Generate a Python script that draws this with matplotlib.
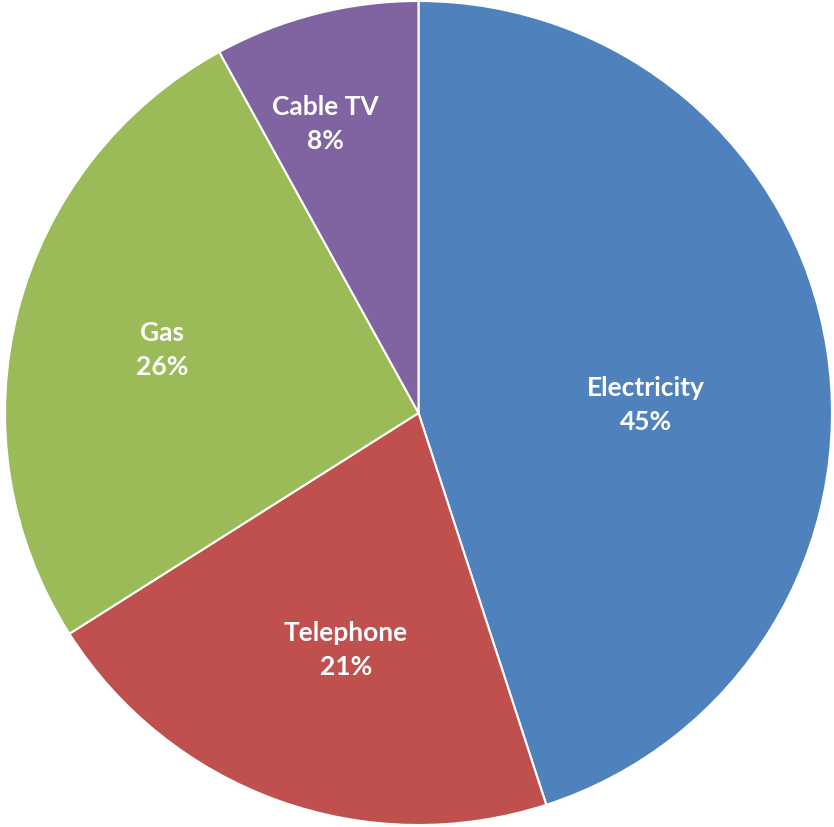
import numpy as np
from matplotlib import pyplot as plt

labels = ['Electricity', 'Telephone', 'Gas', 'Cable TV']
values = [45, 21, 26, 8]
colors = ['#4F81BD', '#C0504D', '#9BBB59', '#8064A2']
# label placement (fraction of radius, angle in degrees)
label_r = [0.55, 0.60, 0.64, 0.74]
label_ang = [2.3, -107.0, 166.0, 107.7]

fig = plt.figure(figsize=(8.34, 8.28), dpi=100)
ax = fig.add_axes([0, 0, 1, 1])
ax.pie(values, colors=colors, startangle=90, counterclock=False,
       wedgeprops=dict(edgecolor='white', linewidth=1.5), radius=1.0)

for lab, v, r, a in zip(labels, values, label_r, label_ang):
    t = np.deg2rad(a)
    ax.text(r*np.cos(t), r*np.sin(t), lab + '\n' + str(v) + '%',
            ha='center', va='center', color='white', fontsize=19,
            fontweight='bold', family='Lato', linespacing=1.5)

# pie spans roughly pixels 5..832 horizontally and 2..826 vertically
ax.set_xlim(-1.0 - 5/412, 1.0 + 2/412)
ax.set_ylim(-1.0 - 2/412, 1.0 + 2/412)
ax.set_aspect('auto')
ax.axis('off')

fig.savefig('out.png', dpi=100)
